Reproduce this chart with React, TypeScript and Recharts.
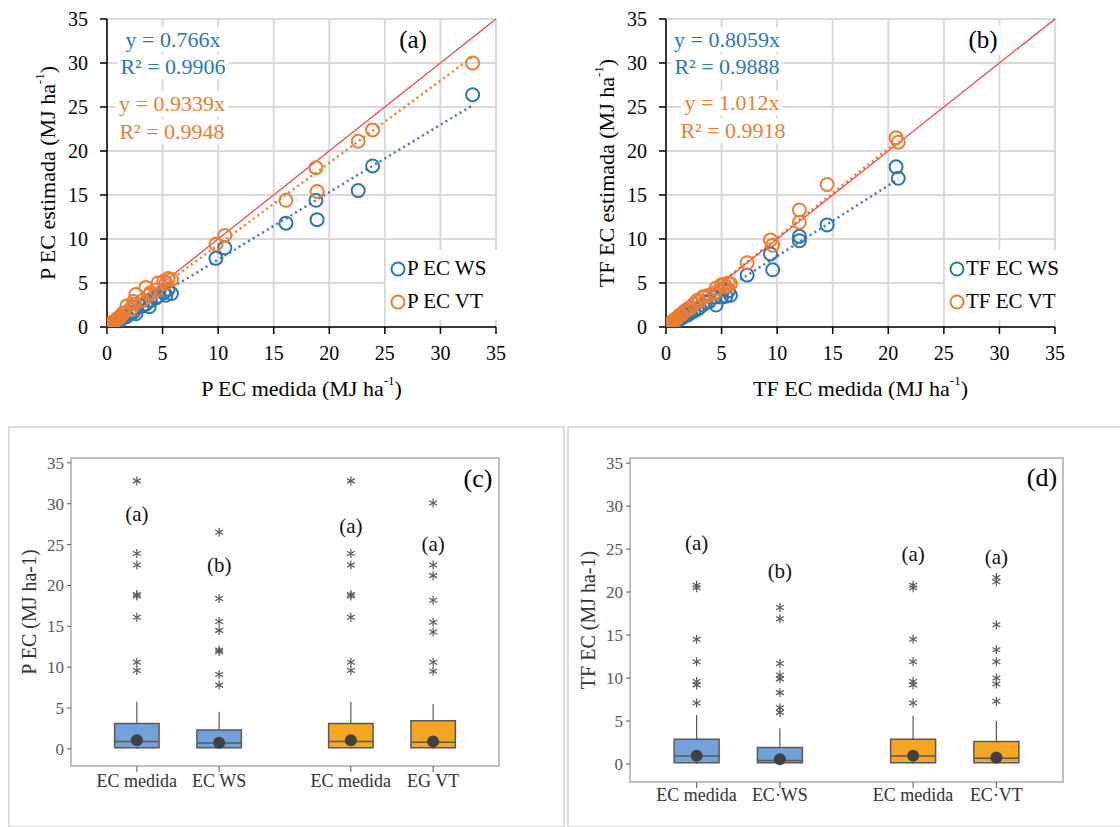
import React from "react";
import {
  ScatterChart,
  Scatter,
  XAxis,
  YAxis,
  CartesianGrid,
  ReferenceLine,
  ReferenceArea,
  ReferenceDot,
  Legend,
  Label,
} from "recharts";

const FONT = '"Liberation Serif", serif';
const BLUE = "#2E75B6";
const ORANGE = "#ED7D31";
const BOX_BLUE = "#73A2D9";
const BOX_ORANGE = "#F5A623";
const GREY = "#595959";

// panel (a) – P EC
const pMeasured = [32.9, 23.9, 22.6, 18.8, 18.9, 16.1, 10.6, 9.8, 5.8, 5.5, 5.3, 5.1, 4.6, 4.4, 3.9, 3.8, 3.5, 3.2, 2.6, 2.5, 2.4, 2.1, 1.8, 1.5, 1.4, 1.2, 1.1, 1.0, 0.9, 0.8, 0.7, 0.6, 0.5, 0.4, 0.3, 0.25, 0.2, 0.15, 0.1, 0.05];
const pWS = [26.4, 18.3, 15.5, 14.4, 12.2, 11.8, 9.0, 7.8, 3.8, 4.3, 3.6, 3.9, 3.5, 3.3, 3.0, 2.3, 2.6, 2.4, 1.5, 2.2, 1.7, 1.6, 1.2, 1.1, 1.0, 0.8, 0.9, 0.7, 0.7, 0.6, 0.5, 0.45, 0.4, 0.3, 0.2, 0.2, 0.15, 0.1, 0.08, 0.04];
const pVT = [30.0, 22.4, 21.1, 18.1, 15.4, 14.4, 10.4, 9.4, 5.4, 5.5, 5.0, 5.2, 5.0, 4.2, 3.9, 3.6, 4.5, 3.0, 3.7, 2.6, 2.9, 2.0, 2.4, 1.6, 1.5, 1.2, 1.0, 1.0, 0.9, 0.8, 0.7, 0.6, 0.5, 0.4, 0.3, 0.25, 0.2, 0.15, 0.1, 0.05];
const pTrendX = [0, 32.9];
const pTrendWsY = [0, 25.2];
const pTrendVtY = [0, 30.7];

// panel (b) – TF EC
const tfMeasured = [20.7, 20.9, 14.5, 12.0, 12.0, 9.4, 9.6, 7.3, 5.8, 5.6, 5.4, 5.2, 5.0, 4.5, 4.4, 3.9, 3.6, 3.3, 3.0, 2.8, 2.5, 2.2, 2.0, 1.8, 1.6, 1.4, 1.2, 1.0, 0.9, 0.8, 0.7, 0.6, 0.5, 0.4, 0.3, 0.25, 0.2, 0.15, 0.1, 0.05];
const tfWS = [18.2, 16.9, 11.6, 10.3, 9.8, 8.3, 6.5, 5.9, 3.6, 4.1, 3.5, 4.3, 3.4, 2.5, 3.4, 2.9, 2.8, 2.5, 2.2, 2.0, 1.8, 1.6, 1.4, 1.3, 1.2, 1.0, 0.9, 0.75, 0.7, 0.6, 0.55, 0.45, 0.4, 0.3, 0.25, 0.2, 0.15, 0.1, 0.08, 0.04];
const tfVT = [21.5, 21.0, 16.2, 13.3, 11.9, 9.9, 9.3, 7.3, 4.9, 5.0, 4.6, 4.8, 4.8, 4.4, 3.9, 3.6, 3.5, 3.4, 2.9, 3.0, 2.6, 2.2, 2.1, 1.9, 1.7, 1.4, 1.3, 1.0, 0.95, 0.85, 0.7, 0.6, 0.5, 0.4, 0.3, 0.25, 0.2, 0.15, 0.1, 0.05];
const tfTrendX = [0, 20.9];
const tfTrendWsY = [0, 16.8];
const tfTrendVtY = [0, 21.2];

const oneToOne = [0, 35];
const axisTicks = [0, 5, 10, 15, 20, 25, 30, 35];

// panels (c) and (d) – box plots
const boxPos = [1, 2, 3.6, 4.6];
const cCats = ["EC medida", "EC WS", "EC medida", "EG VT"];
const dCats = ["EC medida", "EC·WS", "EC medida", "EC·VT"];

const cQ1 = [0.12, 0.12, 0.12, 0.12];
const cMedian = [0.9, 0.7, 0.9, 0.8];
const cQ3 = [3.1, 2.3, 3.1, 3.45];
const cHigh = [5.75, 4.55, 5.75, 5.5];
const cMean = [1.05, 0.75, 1.05, 0.9];
const cOutliers = [
  [32.8, 23.9, 22.5, 18.9, 18.7, 16.1, 10.6, 9.6],
  [26.5, 18.4, 15.6, 14.5, 12.1, 11.9, 9.1, 7.8],
  [32.8, 23.9, 22.5, 18.9, 18.7, 16.1, 10.6, 9.6],
  [30.1, 22.5, 21.2, 18.2, 15.5, 14.3, 10.6, 9.5],
];
const cLetters = ["(a)", "(b)", "(a)", "(a)"];
const cLetterY = [28.8, 22.5, 27.3, 25.1];

const dQ1 = [0.15, 0.15, 0.15, 0.15];
const dMedian = [0.93, 0.4, 0.93, 0.66];
const dQ3 = [2.87, 1.9, 2.87, 2.6];
const dHigh = [5.7, 4.15, 5.6, 5.0];
const dMean = [0.95, 0.55, 0.95, 0.75];
const dOutliers = [
  [20.8, 20.5, 14.5, 11.9, 9.6, 9.2, 7.1],
  [18.2, 16.9, 11.7, 10.35, 9.9, 8.3, 6.55, 6.0],
  [20.8, 20.5, 14.5, 11.9, 9.6, 9.2, 7.1],
  [21.7, 21.2, 16.2, 13.3, 11.9, 10.0, 9.3, 7.3],
];
const dLetters = ["(a)", "(b)", "(a)", "(a)"];
const dLetterY = [25.7, 22.4, 24.4, 24.1];

const toPoints = (xs: number[], ys: number[]) => xs.map((x, i) => ({ x, y: ys[i] }));

const HollowCircle = (props: any) => (
  <circle cx={props.cx} cy={props.cy} r={6.5} fill="none" stroke={props.fill} strokeWidth={2} />
);

const Asterisk = (props: any) => {
  const { cx, cy } = props;
  const s = 4.5;
  return (
    <g stroke={GREY} strokeWidth={1.2}>
      <line x1={cx} y1={cy - s} x2={cx} y2={cy + s} />
      <line x1={cx - s * 0.87} y1={cy - s * 0.5} x2={cx + s * 0.87} y2={cy + s * 0.5} />
      <line x1={cx - s * 0.87} y1={cy + s * 0.5} x2={cx + s * 0.87} y2={cy - s * 0.5} />
    </g>
  );
};

const LetterShape = (props: any) => (
  <text x={props.cx} y={props.cy} textAnchor="middle" dominantBaseline="central" fontFamily={FONT} fontSize={21} fill="#111">
    {props.payload.t}
  </text>
);

const Note = ({ x, y, color, size, children }: any) => (
  <div
    style={{
      position: "absolute",
      left: x,
      top: y,
      transform: "translate(-50%, -50%)",
      fontFamily: FONT,
      fontSize: size,
      color,
      background: "#fff",
      padding: "0 3px",
      whiteSpace: "nowrap",
      lineHeight: 1.15,
    }}
  >
    {children}
  </div>
);

const SupTitle = ({ x, y, text, rotate }: any) => (
  <text
    x={x}
    y={y}
    textAnchor="middle"
    dominantBaseline="central"
    fontFamily={FONT}
    fontSize={22}
    fill="#000"
    transform={rotate ? `rotate(-90, ${x}, ${y})` : undefined}
  >
    {text}
    <tspan dy={-8} fontSize={13}>-1</tspan>
    <tspan dy={8}>)</tspan>
  </text>
);

const makeLegend = (order: string[]) => (props: any) => {
  const items = [...(props.payload || [])].sort((a: any, b: any) => order.indexOf(a.value) - order.indexOf(b.value));
  return (
    <div style={{ background: "#fff", padding: "2px 4px" }}>
      {items.map((p: any) => (
        <div key={p.value} style={{ display: "flex", alignItems: "center", height: 33 }}>
          <svg width={16} height={16}>
            <circle cx={8} cy={8} r={6.5} fill="none" stroke={p.color} strokeWidth={2} />
          </svg>
          <span style={{ fontFamily: FONT, fontSize: 21, color: "#000", marginLeft: 1 }}>{p.value}</span>
        </div>
      ))}
    </div>
  );
};

const TopPanel = ({ left, measured, ws, vt, trendX, trendWsY, trendVtY, names, xTitle, yTitle }: any) => (
  <div style={{ position: "absolute", left, top: 0 }}>
    <ScatterChart width={560} height={400} margin={{ top: 19, right: 64, left: 0, bottom: 0 }}>
      <CartesianGrid stroke="#d9d9d9" strokeWidth={2} />
      <XAxis
        type="number"
        dataKey="x"
        domain={[0, 35]}
        ticks={axisTicks}
        allowDataOverflow
        height={73}
        tickSize={7}
        tickMargin={12}
        axisLine={{ stroke: "#000", strokeWidth: 1.5 }}
        tickLine={{ stroke: "#000", strokeWidth: 1.5 }}
        tick={{ fill: "#000", fontSize: 20, fontFamily: FONT }}
      >
        <Label
          content={(p: any) => {
            const vb = p.viewBox || { x: 107, y: 327, width: 389 };
            return <SupTitle x={vb.x + vb.width / 2} y={vb.y + 61} text={xTitle} />;
          }}
        />
      </XAxis>
      <YAxis
        type="number"
        dataKey="y"
        domain={[0, 35]}
        ticks={axisTicks}
        allowDataOverflow
        width={107}
        tickSize={7}
        tickMargin={12}
        axisLine={{ stroke: "#000", strokeWidth: 1.5 }}
        tickLine={{ stroke: "#000", strokeWidth: 1.5 }}
        tick={{ fill: "#000", fontSize: 20, fontFamily: FONT }}
      >
        <Label
          content={(p: any) => {
            const vb = p.viewBox || { x: 0, y: 19, height: 308 };
            return <SupTitle x={vb.x + 47} y={vb.y + vb.height / 2} text={yTitle} rotate />;
          }}
        />
      </YAxis>
      <Scatter name={names[0]} data={toPoints(measured, ws)} fill={BLUE} shape={HollowCircle} isAnimationActive={false} />
      <Scatter name={names[1]} data={toPoints(measured, vt)} fill={ORANGE} shape={HollowCircle} isAnimationActive={false} />
      <ReferenceLine
        segment={[{ x: trendX[0], y: trendWsY[0] }, { x: trendX[1], y: trendWsY[1] }]}
        stroke="#4472C4"
        strokeWidth={2.5}
        strokeDasharray="2 3.5"
      />
      <ReferenceLine
        segment={[{ x: trendX[0], y: trendVtY[0] }, { x: trendX[1], y: trendVtY[1] }]}
        stroke={ORANGE}
        strokeWidth={2.5}
        strokeDasharray="2 3.5"
      />
      <ReferenceLine
        segment={[{ x: oneToOne[0], y: oneToOne[0] }, { x: oneToOne[1], y: oneToOne[1] }]}
        stroke="#FF3B3B"
        strokeWidth={1.2}
      />
      <Legend
        layout="vertical"
        align="center"
        verticalAlign="middle"
        wrapperStyle={{ left: 386, top: 250, width: 118, height: 70 }}
        content={makeLegend(names)}
      />
    </ScatterChart>
  </div>
);

const BoxPanel = (props: any) => {
  const { left, width, height, xBottom, right, q1, med, q3, high, mean, outliers, letters, letterY, cats, yTitle, xMargin } = props;
  const half = 0.27;
  const colors = [BOX_BLUE, BOX_BLUE, BOX_ORANGE, BOX_ORANGE];
  const outPts = outliers.flatMap((arr: number[], i: number) => arr.map((y) => ({ x: boxPos[i], y })));
  const letterPts = boxPos.map((x, i) => ({ x, y: letterY[i], t: letters[i] }));
  return (
    <div style={{ position: "absolute", left, top: 426 }}>
      <ScatterChart width={width} height={height} margin={{ top: 32, right, left: 0, bottom: 0 }}>
        <ReferenceArea x1={0.2} x2={5.4} y1={-2.1} y2={35.6} fill="none" stroke="#c0c0c0" strokeWidth={2} ifOverflow="visible" />
        <XAxis
          type="number"
          dataKey="x"
          domain={[0.2, 5.4]}
          ticks={boxPos}
          allowDataOverflow
          height={xBottom}
          tickSize={6}
          tickMargin={xMargin}
          axisLine={false}
          tickLine={{ stroke: GREY }}
          tickFormatter={(v: number, i: number) => cats[i]}
          tick={{ fill: "#333", fontSize: 18, fontFamily: FONT }}
        />
        <YAxis
          type="number"
          dataKey="y"
          domain={[-2.1, 35.6]}
          ticks={axisTicks}
          allowDataOverflow
          width={63}
          tickSize={4}
          tickMargin={3}
          axisLine={false}
          tickLine={{ stroke: GREY }}
          tick={{ fill: GREY, fontSize: 17, fontFamily: FONT }}
        >
          <Label
            content={(p: any) => {
              const vb = p.viewBox || { x: 0, y: 32, height: 308 };
              const x = vb.x + 21;
              const y = vb.y + vb.height / 2;
              return (
                <text x={x} y={y} textAnchor="middle" dominantBaseline="central" fontFamily={FONT} fontSize={20} fill="#333" transform={`rotate(-90, ${x}, ${y})`}>
                  {yTitle}
                </text>
              );
            }}
          />
        </YAxis>
        {boxPos.map((p, i) => (
          <ReferenceLine key={"wl" + i} segment={[{ x: p, y: 0 }, { x: p, y: q1[i] }]} stroke={GREY} strokeWidth={1.2} />
        ))}
        {boxPos.map((p, i) => (
          <ReferenceLine key={"wh" + i} segment={[{ x: p, y: q3[i] }, { x: p, y: high[i] }]} stroke={GREY} strokeWidth={1.2} />
        ))}
        {boxPos.map((p, i) => (
          <ReferenceArea key={"b" + i} x1={p - half} x2={p + half} y1={q1[i]} y2={q3[i]} fill={colors[i]} fillOpacity={1} stroke={GREY} strokeWidth={1.5} />
        ))}
        {boxPos.map((p, i) => (
          <ReferenceLine key={"m" + i} segment={[{ x: p - half, y: med[i] }, { x: p + half, y: med[i] }]} stroke={GREY} strokeWidth={1.5} />
        ))}
        {boxPos.map((p, i) => (
          <ReferenceDot key={"d" + i} x={p} y={mean[i]} r={6} fill="#404040" stroke="none" />
        ))}
        <Scatter data={outPts} fill={GREY} shape={Asterisk} isAnimationActive={false} />
        <Scatter data={letterPts} fill="#111" shape={LetterShape} isAnimationActive={false} />
      </ScatterChart>
    </div>
  );
};

export default function App() {
  return (
    <div style={{ position: "absolute", left: 0, top: 0, width: 1120, height: 827, background: "#fff", overflow: "hidden", fontFamily: FONT }}>
      <TopPanel
        left={0}
        measured={pMeasured}
        ws={pWS}
        vt={pVT}
        trendX={pTrendX}
        trendWsY={pTrendWsY}
        trendVtY={pTrendVtY}
        names={["P EC WS", "P EC VT"]}
        xTitle="P EC medida (MJ ha"
        yTitle="P EC estimada (MJ ha"
      />
      <TopPanel
        left={559}
        measured={tfMeasured}
        ws={tfWS}
        vt={tfVT}
        trendX={tfTrendX}
        trendWsY={tfTrendWsY}
        trendVtY={tfTrendVtY}
        names={["TF EC WS", "TF EC VT"]}
        xTitle="TF EC medida (MJ ha"
        yTitle="TF EC estimada (MJ ha"
      />

      <Note x={173} y={40} color={BLUE} size={22}>y = 0.766x</Note>
      <Note x={173} y={67} color={BLUE} size={22}>R² = 0.9906</Note>
      <Note x={172} y={104} color={ORANGE} size={22}>y = 0.9339x</Note>
      <Note x={172} y={132} color={ORANGE} size={22}>R² = 0.9948</Note>
      <Note x={413} y={40} color="#000" size={25}>(a)</Note>

      <Note x={727} y={40} color={BLUE} size={22}>y = 0.8059x</Note>
      <Note x={727} y={67} color={BLUE} size={22}>R² = 0.9888</Note>
      <Note x={732} y={103} color={ORANGE} size={22}>y = 1.012x</Note>
      <Note x={733} y={131} color={ORANGE} size={22}>R² = 0.9918</Note>
      <Note x={983} y={40} color="#000" size={25}>(b)</Note>

      <div style={{ position: "absolute", left: 8, top: 426, width: 553, height: 398, border: "2px solid #dcdcdc" }} />
      <div style={{ position: "absolute", left: 567, top: 426, width: 551, height: 398, border: "2px solid #dcdcdc" }} />

      <BoxPanel
        left={8}
        width={555}
        height={400}
        xBottom={60}
        right={64}
        xMargin={2}
        q1={cQ1}
        med={cMedian}
        q3={cQ3}
        high={cHigh}
        mean={cMean}
        outliers={cOutliers}
        letters={cLetters}
        letterY={cLetterY}
        cats={cCats}
        yTitle="P EC (MJ ha-1)"
      />
      <BoxPanel
        left={567}
        width={548}
        height={400}
        xBottom={44}
        right={52}
        xMargin={0}
        q1={dQ1}
        med={dMedian}
        q3={dQ3}
        high={dHigh}
        mean={dMean}
        outliers={dOutliers}
        letters={dLetters}
        letterY={dLetterY}
        cats={dCats}
        yTitle="TF EC (MJ ha-1)"
      />
      <Note x={478} y={479} color="#000" size={26}>(c)</Note>
      <Note x={1042} y={478} color="#000" size={26}>(d)</Note>
    </div>
  );
}
